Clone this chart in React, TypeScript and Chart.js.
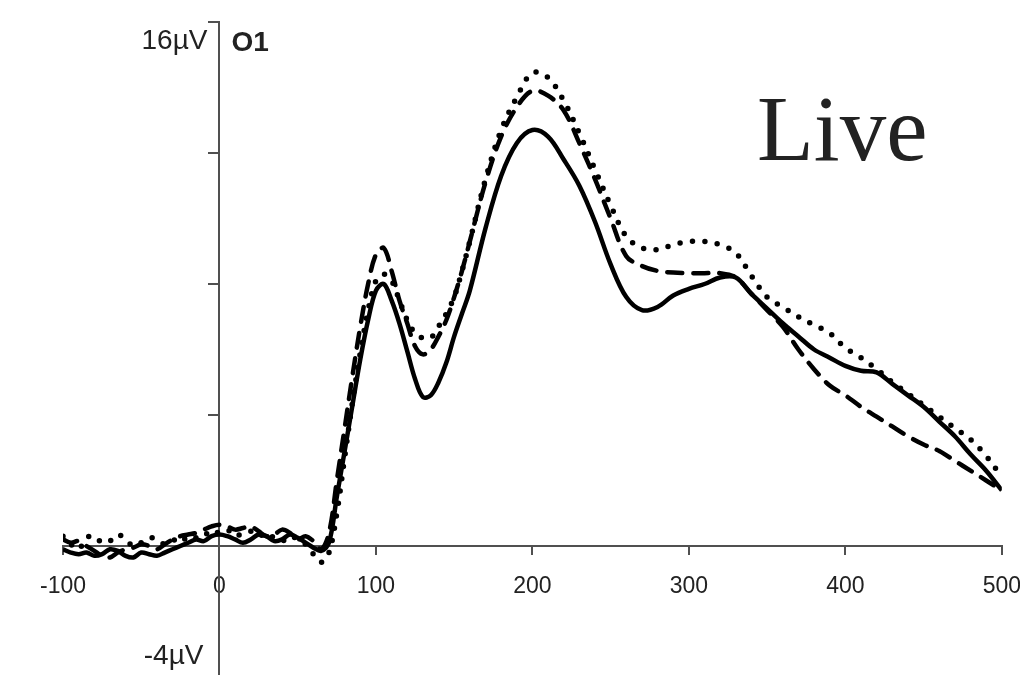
import React, { useEffect, useRef } from "react";
import { Chart, registerables } from "chart.js";

Chart.register(...registerables);

// time in ms
const times = [
  -100, -95, -90, -85, -80, -75, -70, -65, -60, -55,
  -50, -45, -40, -35, -30, -25, -20, -15, -10, -5,
  0, 5, 10, 15, 20, 25, 30, 35, 40, 45,
  50, 55, 60, 65, 70,
  75, 80, 85, 90, 95, 100, 105, 110, 115, 120, 125, 130, 135, 140, 145, 150, 155, 160,
  170, 180, 190, 200, 210, 220, 230, 240, 250, 260,
  270, 280, 290, 300, 310, 320, 330, 340, 350, 360,
  370, 380, 390, 400, 410, 420, 430, 440, 450, 460,
  470, 480, 490, 500,
];

// µV
const solidSeries = [
  -0.1, -0.2, -0.25, -0.2, -0.3, -0.25, -0.1, -0.15, -0.3, -0.35,
  -0.2, -0.25, -0.3, -0.2, -0.1, 0.0, 0.1, 0.2, 0.15, 0.3,
  0.35, 0.3, 0.2, 0.1, 0.2, 0.35, 0.3, 0.15, 0.2, 0.35,
  0.25, 0.1, -0.05, -0.15, 0.1,
  1.5, 2.9, 4.3, 5.7, 6.9, 7.8, 8.0, 7.5, 6.8, 5.95, 5.1, 4.55, 4.6, 5.0, 5.6, 6.4, 7.1, 7.8,
  9.7, 11.3, 12.3, 12.7, 12.5, 11.8, 11.0, 9.9, 8.6, 7.6,
  7.2, 7.3, 7.65, 7.85, 8.0, 8.2, 8.2, 7.7, 7.25, 6.8,
  6.4, 6.0, 5.75, 5.5, 5.35, 5.3, 4.95, 4.6, 4.25, 3.8,
  3.35, 2.8, 2.3, 1.7,
];

const dashedSeries = [
  0.2, 0.1, 0.15, 0.0, -0.15, -0.3, -0.35, -0.2, -0.1, -0.05,
  0.05, 0.0, -0.1, 0.05, 0.2, 0.3, 0.35, 0.4, 0.5, 0.6,
  0.65, 0.6, 0.5, 0.55, 0.6, 0.45, 0.3, 0.35, 0.5, 0.4,
  0.2, 0.3, 0.15, -0.1, 0.4,
  2.0, 3.6, 5.2, 6.7, 8.0, 8.9, 9.1, 8.4, 7.5, 6.8, 6.1, 5.85, 6.0, 6.4, 6.9, 7.6, 8.4, 9.3,
  11.1, 12.5, 13.4, 13.9, 13.75, 13.3, 12.3, 11.2, 10.0, 8.85,
  8.55, 8.4, 8.35, 8.33, 8.33, 8.33, 8.2, 7.7, 7.2, 6.7,
  6.0, 5.4, 4.9, 4.6, 4.25, 3.95, 3.65, 3.35, 3.1, 2.9,
  2.6, 2.3, 2.0, 1.7,
];

const dottedSeries = [
  0.3, 0.05, -0.1, 0.25, 0.3, 0.1, 0.15, 0.35, 0.2, 0.0,
  0.1, 0.25, 0.2, 0.05, 0.15, 0.3, 0.15, 0.25, 0.4, 0.3,
  0.45, 0.5, 0.3, 0.4, 0.45, 0.3, 0.4, 0.25, 0.15, 0.3,
  0.2, 0.05, -0.25, -0.5, -0.2,
  1.0, 2.7, 4.4, 5.9, 7.2, 8.1, 8.3, 8.1, 7.5, 6.9, 6.5, 6.35, 6.35, 6.7, 7.1, 7.6, 8.4, 9.3,
  11.2, 12.7, 13.7, 14.45, 14.3, 13.6, 12.6, 11.5, 10.4, 9.45,
  9.1, 9.05, 9.2, 9.3, 9.3, 9.2, 8.95, 8.25, 7.6, 7.3,
  7.0, 6.75, 6.5, 6.05, 5.75, 5.4, 5.0, 4.65, 4.3, 3.95,
  3.6, 3.25, 2.75, 2.1,
];

const xMin = -100;
const xMax = 500;
const yMin = -4;
const yMax = 16;
const yTopLabel = "16µV";
const yBottomLabel = "-4µV";
const channelLabel = "O1";
const conditionLabel = "Live";

const AXIS_COLOR = "#505050";
const TEXT_COLOR = "#222222";
const SANS = '"Liberation Sans", Arial, Helvetica, sans-serif';

const textPlugin = {
  id: "textPlugin",
  afterDraw(chart: any) {
    const { ctx, scales } = chart;
    const ax = scales.x.getPixelForValue(0);
    const yTop = scales.y.getPixelForValue(yMax);
    ctx.save();
    ctx.fillStyle = TEXT_COLOR;
    ctx.font = `28px ${SANS}`;
    ctx.textAlign = "right";
    ctx.textBaseline = "middle";
    ctx.fillText(yTopLabel, ax - 12, yTop + 19);
    ctx.fillText(yBottomLabel, ax - 16, 656);
    ctx.font = `bold 28px ${SANS}`;
    ctx.textAlign = "left";
    ctx.fillText(channelLabel, ax + 12, yTop + 21);
    ctx.font = '93px "Liberation Serif", "Times New Roman", serif';
    ctx.textBaseline = "alphabetic";
    ctx.fillText(conditionLabel, 757, 160);
    ctx.restore();
  },
};

export default function App() {
  const canvasRef = useRef<HTMLCanvasElement | null>(null);

  useEffect(() => {
    const canvas = canvasRef.current;
    if (!canvas) return;
    const mk = (arr: number[]) => times.map((t, i) => ({ x: t, y: arr[i] }));
    const chart = new Chart(canvas, {
      type: "line",
      data: {
        datasets: [
          {
            label: "dotted",
            data: mk(dottedSeries),
            borderColor: "#000",
            borderWidth: 5.5,
            borderDash: [0, 12.5],
            borderCapStyle: "round",
            pointRadius: 0,
            tension: 0.35,
            fill: false,
          },
          {
            label: "dashed",
            data: mk(dashedSeries),
            borderColor: "#000",
            borderWidth: 4.5,
            borderDash: [15, 11],
            borderCapStyle: "round",
            pointRadius: 0,
            tension: 0.35,
            fill: false,
          },
          {
            label: "solid",
            data: mk(solidSeries),
            borderColor: "#000",
            borderWidth: 4.5,
            pointRadius: 0,
            tension: 0.35,
            fill: false,
          },
        ],
      },
      options: {
        responsive: false,
        animation: false,
        devicePixelRatio: 1,
        layout: { padding: { left: 63, right: 1, top: 22, bottom: 23 } },
        plugins: {
          legend: { display: false },
          tooltip: { enabled: false },
          title: { display: false },
        },
        scales: {
          x: {
            type: "linear",
            min: xMin,
            max: xMax,
            position: { y: 0 },
            border: { display: true, color: AXIS_COLOR, width: 2 },
            grid: {
              display: true,
              drawOnChartArea: false,
              drawTicks: true,
              tickLength: 8,
              color: AXIS_COLOR,
              lineWidth: 2,
            },
            ticks: {
              stepSize: 100,
              color: "#222",
              font: { family: SANS, size: 23 },
              padding: 19,
              maxRotation: 0,
              autoSkip: false,
            },
          },
          y: {
            type: "linear",
            min: yMin,
            max: yMax,
            position: { x: 0 },
            border: { display: true, color: AXIS_COLOR, width: 2 },
            grid: {
              display: true,
              drawOnChartArea: false,
              drawTicks: true,
              tickLength: 10,
              color: AXIS_COLOR,
              lineWidth: 2,
            },
            ticks: {
              stepSize: 4,
              callback: () => "",
              padding: 0,
            },
          },
        },
      },
      plugins: [textPlugin],
    } as any);
    return () => chart.destroy();
  }, []);

  return (
    <div
      style={{
        position: "fixed",
        left: 0,
        top: 0,
        width: 1020,
        height: 675,
        overflow: "hidden",
        background: "#fff",
      }}
    >
      <canvas
        ref={canvasRef}
        width={1040}
        height={700}
        style={{ display: "block", width: 1040, height: 700 }}
      />
    </div>
  );
}
